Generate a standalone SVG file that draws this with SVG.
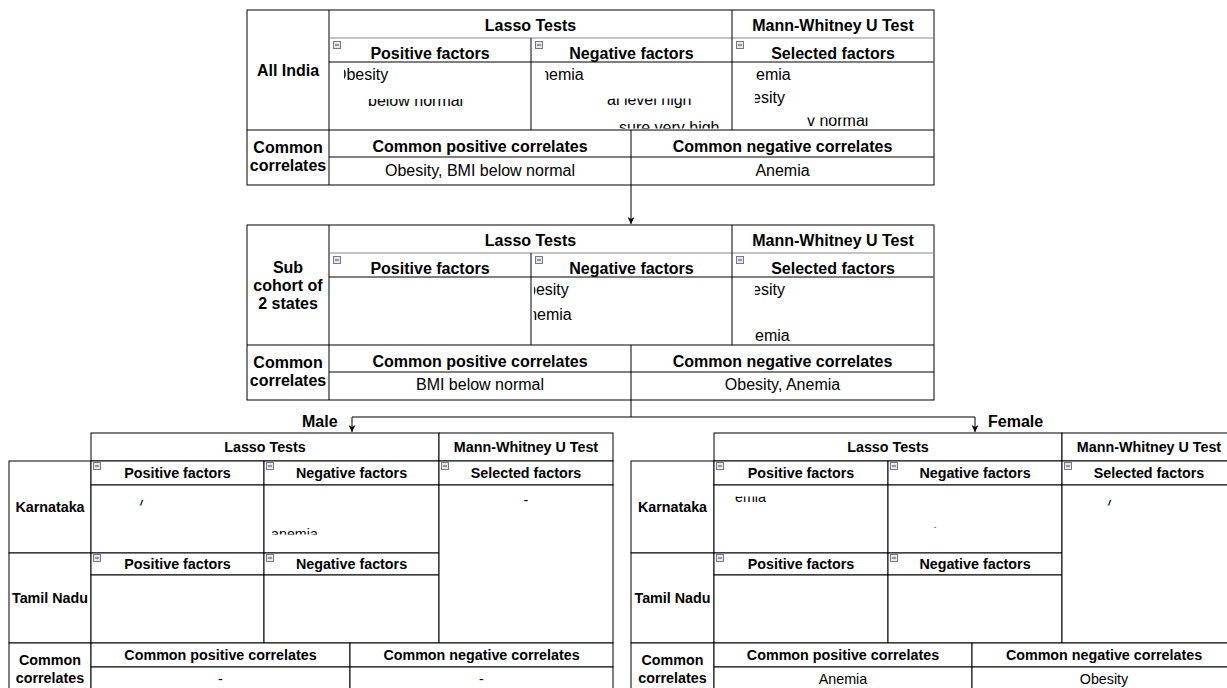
<svg xmlns="http://www.w3.org/2000/svg" xmlns:xlink="http://www.w3.org/1999/xlink" width="1227" height="688" viewBox="0 0 1227 688">
<style>
.c{fill:#fff;stroke:#000;stroke-width:1}
.g{stroke:#888;stroke-width:1;fill:none}
.k{stroke:#000;stroke-width:1;fill:none}
.h{font-family:"Liberation Sans",Arial,sans-serif;font-weight:bold;font-size:16px;text-anchor:middle;fill:#000}
.t{font-family:"Liberation Sans",Arial,sans-serif;font-size:16px;fill:#000}
.tm{text-anchor:middle}
.hs{font-family:"Liberation Sans",Arial,sans-serif;font-weight:bold;font-size:14.3px;text-anchor:middle;fill:#000}
.ts{font-family:"Liberation Sans",Arial,sans-serif;font-size:14.3px;fill:#000}
.lbl{font-family:"Liberation Sans",Arial,sans-serif;font-weight:bold;font-size:16px;fill:#000}
</style>
<defs>
<symbol id="mi" viewBox="0 0 8 8" width="8" height="8" overflow="visible">
<rect x="0.5" y="0.5" width="7" height="7" fill="#e6e6ee" stroke="#777788" stroke-width="1"/>
<line x1="2" y1="4" x2="6" y2="4" stroke="#444455" stroke-width="1"/>
</symbol>
<marker id="arr" viewBox="0 0 10 10" refX="10" refY="5" markerWidth="7" markerHeight="7" markerUnits="userSpaceOnUse" orient="auto">
<path d="M0,0 L10,5 L0,10 L3,5 z" fill="#000"/>
</marker>
<clipPath id="cp1" clipPathUnits="userSpaceOnUse"><rect x="344" y="62" width="186" height="68"/></clipPath>
<clipPath id="cp2" clipPathUnits="userSpaceOnUse"><rect x="330" y="99" width="200" height="31"/></clipPath>
<clipPath id="cp3" clipPathUnits="userSpaceOnUse"><rect x="545" y="62" width="186" height="30"/></clipPath>
<clipPath id="cp4" clipPathUnits="userSpaceOnUse"><rect x="533" y="98.5" width="198" height="31"/></clipPath>
<clipPath id="cp5" clipPathUnits="userSpaceOnUse"><rect x="619" y="62" width="112" height="66.5"/></clipPath>
<clipPath id="cp7" clipPathUnits="userSpaceOnUse"><rect x="755" y="62" width="178" height="68"/></clipPath>
<clipPath id="cp8" clipPathUnits="userSpaceOnUse"><rect x="733" y="117.5" width="200" height="12"/></clipPath>
<clipPath id="cp9" clipPathUnits="userSpaceOnUse"><rect x="534" y="277" width="197" height="68"/></clipPath>
<clipPath id="cp10" clipPathUnits="userSpaceOnUse"><rect x="533.5" y="277" width="197" height="68"/></clipPath>
<clipPath id="cp11" clipPathUnits="userSpaceOnUse"><rect x="755" y="277" width="178" height="68"/></clipPath>
<clipPath id="cpm1" clipPathUnits="userSpaceOnUse"><rect x="139.5" y="500" width="5" height="5.5"/></clipPath>
<clipPath id="cpm2" clipPathUnits="userSpaceOnUse"><rect x="265" y="485" width="173" height="49.5"/></clipPath>
<clipPath id="cpf1" clipPathUnits="userSpaceOnUse"><rect x="92" y="496.5" width="171" height="56"/></clipPath>
<clipPath id="cpf2" clipPathUnits="userSpaceOnUse"><rect x="485.5" y="500" width="5" height="5.5"/></clipPath>
</defs>
<rect x="0" y="0" width="1227" height="688" fill="#fff"/>

<g id="all-india">
<rect class="c" x="247" y="10" width="687" height="175"/>
<line class="k" x1="329" y1="10" x2="329" y2="185"/>
<line class="g" x1="329" y1="38" x2="934" y2="38"/>
<line class="k" x1="329" y1="62" x2="934" y2="62"/>
<line class="k" x1="531" y1="38" x2="531" y2="130"/>
<line class="k" x1="732" y1="10" x2="732" y2="130"/>
<line class="g" x1="934" y1="10" x2="934" y2="130"/>
<line class="k" x1="247" y1="130" x2="934" y2="130"/>
<line class="k" x1="329" y1="157" x2="934" y2="157"/>
<line class="k" x1="631" y1="130" x2="631" y2="185"/>
<use href="#mi" x="333" y="41"/>
<use href="#mi" x="535" y="41"/>
<use href="#mi" x="736" y="41"/>
<text class="h" x="288" y="76">All India</text>
<text class="h" x="530.5" y="30.5">Lasso Tests</text>
<text class="h" x="833" y="30.5">Mann-Whitney U Test</text>
<text class="h" x="430" y="58.5">Positive factors</text>
<text class="h" x="631.5" y="58.5">Negative factors</text>
<text class="h" x="833" y="58.5">Selected factors</text>
<text class="t" x="334" y="80" clip-path="url(#cp1)">Obesity</text>
<text class="t" x="368" y="106" clip-path="url(#cp2)">below normal</text>
<text class="t" x="529.5" y="80" clip-path="url(#cp3)">Anemia</text>
<text class="t" x="607" y="105" clip-path="url(#cp4)">al level high</text>
<text class="t" x="619" y="132.5" clip-path="url(#cp5)">sure very high</text>
<text class="t" x="756" y="80">emia</text>
<text class="t" x="752" y="103" clip-path="url(#cp7)">esity</text>
<text class="t" x="807" y="125.5" clip-path="url(#cp8)">v normal</text>
<text class="h" x="288" y="152.5">Common</text>
<text class="h" x="288" y="170.5">correlates</text>
<text class="h" x="480" y="151.5">Common positive correlates</text>
<text class="h" x="782.5" y="151.5">Common negative correlates</text>
<text class="t tm" x="480" y="175.5">Obesity, BMI below normal</text>
<text class="t tm" x="782.5" y="175.5">Anemia</text>
</g>

<g id="sub-cohort">
<rect class="c" x="247" y="225" width="687" height="175"/>
<line class="k" x1="329" y1="225" x2="329" y2="400"/>
<line class="g" x1="329" y1="253" x2="934" y2="253"/>
<line class="k" x1="329" y1="277" x2="934" y2="277"/>
<line class="k" x1="531" y1="253" x2="531" y2="345"/>
<line class="k" x1="732" y1="225" x2="732" y2="345"/>
<line class="g" x1="934" y1="225" x2="934" y2="345"/>
<line class="k" x1="247" y1="345" x2="934" y2="345"/>
<line class="k" x1="329" y1="372" x2="934" y2="372"/>
<line class="k" x1="631" y1="345" x2="631" y2="400"/>
<use href="#mi" x="333" y="256"/>
<use href="#mi" x="535" y="256"/>
<use href="#mi" x="736" y="256"/>
<text class="h" x="288" y="273">Sub</text>
<text class="h" x="288" y="291">cohort of</text>
<text class="h" x="288" y="309">2 states</text>
<text class="h" x="530.5" y="245.5">Lasso Tests</text>
<text class="h" x="833" y="245.5">Mann-Whitney U Test</text>
<text class="h" x="430" y="273.5">Positive factors</text>
<text class="h" x="631.5" y="273.5">Negative factors</text>
<text class="h" x="833" y="273.5">Selected factors</text>
<text class="t" x="527" y="295" clip-path="url(#cp9)">besity</text>
<text class="t" x="517.5" y="320" clip-path="url(#cp10)">Anemia</text>
<text class="t" x="752" y="295" clip-path="url(#cp11)">esity</text>
<text class="t" x="755" y="341">emia</text>
<text class="h" x="288" y="367.5">Common</text>
<text class="h" x="288" y="385.5">correlates</text>
<text class="h" x="480" y="366.5">Common positive correlates</text>
<text class="h" x="782.5" y="366.5">Common negative correlates</text>
<text class="t tm" x="480" y="390">BMI below normal</text>
<text class="t tm" x="782.5" y="390">Obesity, Anemia</text>
</g>

<g id="male">
<rect class="c" x="91" y="433" width="348" height="28"/>
<rect class="c" x="439" y="433" width="174" height="28"/>
<rect class="c" x="9" y="461" width="82" height="92"/>
<rect class="c" x="9" y="553" width="82" height="90"/>
<rect class="c" x="9" y="643" width="82" height="50"/>
<rect class="c" x="91" y="461" width="173" height="24"/>
<rect class="c" x="91" y="485" width="173" height="68"/>
<rect class="c" x="264" y="461" width="175" height="24"/>
<rect class="c" x="264" y="485" width="175" height="68"/>
<rect class="c" x="91" y="553" width="173" height="22"/>
<rect class="c" x="91" y="575" width="173" height="68"/>
<rect class="c" x="264" y="553" width="175" height="22"/>
<rect class="c" x="264" y="575" width="175" height="68"/>
<rect class="c" x="439" y="461" width="174" height="24"/>
<rect class="c" x="439" y="485" width="174" height="158"/>
<rect class="c" x="91" y="643" width="259" height="24"/>
<rect class="c" x="91" y="667" width="259" height="26"/>
<rect class="c" x="350" y="643" width="263" height="24"/>
<rect class="c" x="350" y="667" width="263" height="26"/>
<use href="#mi" x="93" y="462"/>
<use href="#mi" x="266" y="462"/>
<use href="#mi" x="441" y="462"/>
<use href="#mi" x="93" y="554"/>
<use href="#mi" x="266" y="554"/>
<text class="hs" x="265" y="452">Lasso Tests</text>
<text class="hs" x="526" y="452">Mann-Whitney U Test</text>
<text class="hs" x="177.5" y="478">Positive factors</text>
<text class="hs" x="351.5" y="478">Negative factors</text>
<text class="hs" x="526" y="478">Selected factors</text>
<text class="hs" x="177.5" y="569">Positive factors</text>
<text class="hs" x="351.5" y="569">Negative factors</text>
<text class="hs" x="50" y="512">Karnataka</text>
<text class="hs" x="50" y="603">Tamil Nadu</text>
<text class="hs" x="50" y="665">Common</text>
<text class="hs" x="50" y="683">correlates</text>
<text class="hs" x="220.5" y="660">Common positive correlates</text>
<text class="hs" x="481.5" y="660">Common negative correlates</text>
<text class="ts" x="136" y="508.4" clip-path="url(#cpm1)">y</text>
<text class="ts" x="271" y="539" clip-path="url(#cpm2)">anemia</text>
<text class="ts tm" x="526" y="505">-</text>
<text class="ts tm" x="220.5" y="684">-</text>
<text class="ts tm" x="481.5" y="684">-</text>
</g>

<g id="female" transform="translate(622,0)">
<rect class="c" x="92" y="433" width="348" height="28"/>
<rect class="c" x="440" y="433" width="174" height="28"/>
<rect class="c" x="9" y="461" width="83" height="92"/>
<rect class="c" x="9" y="553" width="83" height="90"/>
<rect class="c" x="9" y="643" width="83" height="50"/>
<rect class="c" x="92" y="461" width="174" height="24"/>
<rect class="c" x="92" y="485" width="174" height="68"/>
<rect class="c" x="266" y="461" width="174" height="24"/>
<rect class="c" x="266" y="485" width="174" height="68"/>
<rect class="c" x="92" y="553" width="174" height="22"/>
<rect class="c" x="92" y="575" width="174" height="68"/>
<rect class="c" x="266" y="553" width="174" height="22"/>
<rect class="c" x="266" y="575" width="174" height="68"/>
<rect class="c" x="440" y="461" width="174" height="24"/>
<rect class="c" x="440" y="485" width="174" height="158"/>
<rect class="c" x="92" y="643" width="258" height="24"/>
<rect class="c" x="92" y="667" width="258" height="26"/>
<rect class="c" x="350" y="643" width="264" height="24"/>
<rect class="c" x="350" y="667" width="264" height="26"/>
<use href="#mi" x="94" y="462"/>
<use href="#mi" x="268" y="462"/>
<use href="#mi" x="442" y="462"/>
<use href="#mi" x="94" y="554"/>
<use href="#mi" x="268" y="554"/>
<text class="hs" x="266" y="452">Lasso Tests</text>
<text class="hs" x="527" y="452">Mann-Whitney U Test</text>
<text class="hs" x="179" y="478">Positive factors</text>
<text class="hs" x="353" y="478">Negative factors</text>
<text class="hs" x="527" y="478">Selected factors</text>
<text class="hs" x="179" y="569">Positive factors</text>
<text class="hs" x="353" y="569">Negative factors</text>
<text class="hs" x="50.5" y="512">Karnataka</text>
<text class="hs" x="50.5" y="603">Tamil Nadu</text>
<text class="hs" x="50.5" y="665">Common</text>
<text class="hs" x="50.5" y="683">correlates</text>
<text class="hs" x="221" y="660">Common positive correlates</text>
<text class="hs" x="482" y="660">Common negative correlates</text>
<text class="ts" x="113" y="502" clip-path="url(#cpf1)">emia</text>
<text class="ts" x="312" y="529" style="font-size:7px">-</text>
<text class="ts" x="482" y="508.4" clip-path="url(#cpf2)">y</text>
<text class="ts tm" x="221" y="684">Anemia</text>
<text class="ts tm" x="482" y="684">Obesity</text>
</g>

<g id="connectors" fill="none" stroke="#000" stroke-width="1">
<path d="M631,185 V224" marker-end="url(#arr)"/>
<path d="M631,400 V417 H352 V432" marker-end="url(#arr)"/>
<path d="M631,417 H975 V432" marker-end="url(#arr)"/>
</g>
<text class="lbl" x="302" y="427">Male</text>
<text class="lbl" x="988" y="427">Female</text>
</svg>
